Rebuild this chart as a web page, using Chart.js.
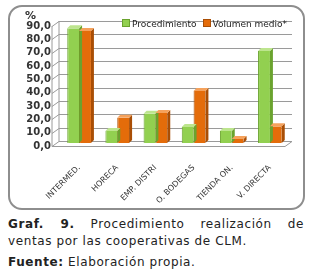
<!DOCTYPE html>
<html>
<head>
<meta charset="utf-8">
<script src="https://cdn.jsdelivr.net/npm/chart.js@4/dist/chart.umd.min.js"></script>
<style>
  body { margin: 0; background: #fff; width: 315px; height: 275px; position: relative; overflow: hidden; }
  #caja {
    position: absolute; left: 8px; top: 5px; width: 293px; height: 201px;
    border: 2px solid #8e8e8e; border-radius: 14px; background: #fff;
  }
  #grafico { position: absolute; left: 0; top: 0; }
  #leyenda {
    position: absolute; left: 112px; top: 12px; font-family: "DejaVu Sans", sans-serif;
    font-size: 9px; color: #222; white-space: nowrap;
  }
  #leyenda span.item { margin-right: 6px; }
  #leyenda span.cuadro { display: inline-block; width: 6px; height: 6px; margin-right: 2px; vertical-align: 0px; }
  .pie {
    position: absolute; left: 8px; width: 296px; font-family: "DejaVu Sans", sans-serif;
    font-size: 12px; letter-spacing: 0.6px; color: #222; line-height: 17px;
  }
  #titulo { top: 216px; }
  .just { text-align: justify; text-align-last: justify; }
  #fuente { top: 254px; }
</style>
</head>
<body>
<div id="caja">
  <canvas id="grafico" width="293" height="201"></canvas>
  <div id="leyenda"></div>
</div>
<div class="pie" id="titulo">
  <div class="just"><b>Graf. 9.</b> Procedimiento realización de</div>
  <div>ventas por las cooperativas de CLM.</div>
</div>
<div class="pie" id="fuente"><b>Fuente:</b> Elaboración propia.</div>

<script>
const categorias = ["INTERMED.", "HORECA", "EMP. DISTRI", "O. BODEGAS", "TIENDA ON.", "V. DIRECTA"];
const procedimiento = [86, 9, 22, 12, 9, 69];
const volumenMedio = [84, 19, 22.5, 39, 3, 12.5];
const nombresSeries = ["Procedimiento", "Volumen medio*"];

const colores = [
  { cara: "#92D050", lado: "#6AA32E", tapa: "#BDE58E" },
  { cara: "#E46C0A", lado: "#A94E05", tapa: "#F5A25C" },
];

// leyenda en HTML encima del canvas
const leyenda = document.getElementById("leyenda");
nombresSeries.forEach(function (nombre, i) {
  leyenda.innerHTML +=
    '<span class="item"><span class="cuadro" style="background:' + colores[i].cara +
    ';border:1px solid ' + colores[i].lado + '"></span>' + nombre + "</span>";
});

// pared del fondo, suelo y rejilla (efecto 3D)
const paredFondo = {
  id: "paredFondo",
  beforeDatasetsDraw(chart) {
    const ctx = chart.ctx;
    const y = chart.scales.y;
    const a = chart.chartArea;
    const fx = a.left - 8; // esquina delantera
    const bx = a.left - 1; // esquina trasera
    ctx.save();
    ctx.strokeStyle = "#9a9a9a";
    ctx.lineWidth = 1;
    y.ticks.forEach(function (t) {
      const py = Math.round(y.getPixelForValue(t.value)) + 0.5;
      ctx.beginPath();
      ctx.moveTo(fx, py + 3);
      ctx.lineTo(bx, py - 2);
      ctx.lineTo(a.right + 3, py - 2);
      ctx.stroke();
    });
    const y0 = Math.round(y.getPixelForValue(0)) + 0.5;
    ctx.beginPath();
    ctx.moveTo(fx, y0 + 3);
    ctx.lineTo(a.right - 4, y0 + 3);
    ctx.lineTo(a.right + 3, y0 - 2);
    ctx.stroke();
    ctx.beginPath();
    ctx.moveTo(bx, y0 - 2);
    ctx.lineTo(bx, Math.round(y.getPixelForValue(90)) - 2);
    ctx.moveTo(fx, y0 + 3);
    ctx.lineTo(fx, Math.round(y.getPixelForValue(90)) + 3);
    ctx.stroke();
    // simbolo %
    ctx.fillStyle = "#333";
    ctx.font = "bold 11px 'DejaVu Sans'";
    ctx.textAlign = "left";
    ctx.fillText("%", 15, 12);
    ctx.restore();
  },
  afterDatasetsDraw(chart) {
    const ctx = chart.ctx;
    ctx.save();
    chart.data.datasets.forEach(function (ds, i) {
      chart.getDatasetMeta(i).data.forEach(function (bar) {
        const w = bar.width;
        const x1 = bar.x - w / 2;
        const x2 = bar.x + w / 2;
        const top = bar.y;
        const base = bar.base;
        const d = 3;
        ctx.fillStyle = colores[i].lado;
        ctx.beginPath();
        ctx.moveTo(x2, base);
        ctx.lineTo(x2 + d, base - d);
        ctx.lineTo(x2 + d, top - d);
        ctx.lineTo(x2, top);
        ctx.closePath();
        ctx.fill();
        ctx.fillStyle = colores[i].tapa;
        ctx.beginPath();
        ctx.moveTo(x1, top);
        ctx.lineTo(x1 + d, top - d);
        ctx.lineTo(x2 + d, top - d);
        ctx.lineTo(x2, top);
        ctx.closePath();
        ctx.fill();
      });
    });
    ctx.restore();
  },
};

new Chart(document.getElementById("grafico"), {
  type: "bar",
  data: {
    labels: categorias,
    datasets: [
      {
        label: nombresSeries[0],
        data: procedimiento,
        backgroundColor: colores[0].cara,
        borderColor: colores[0].lado,
        borderWidth: { left: 1, right: 0, top: 0, bottom: 0 },
      },
      {
        label: nombresSeries[1],
        data: volumenMedio,
        backgroundColor: colores[1].cara,
        borderColor: colores[1].lado,
        borderWidth: { left: 1, right: 0, top: 0, bottom: 0 },
      },
    ],
  },
  options: {
    responsive: false,
    animation: false,
    layout: { padding: { top: 16, right: 14, left: 10, bottom: 0 } },
    plugins: { legend: { display: false }, tooltip: { enabled: false } },
    datasets: { bar: { categoryPercentage: 0.62, barPercentage: 1 } },
    scales: {
      x: {
        grid: { display: false },
        border: { display: false },
        afterFit: function (scale) {
          scale.height = 65;
        },
        ticks: {
          minRotation: 45,
          maxRotation: 45,
          color: "#333",
          font: { family: "DejaVu Sans", size: 8 },
          padding: 12,
        },
      },
      y: {
        min: 0,
        max: 90,
        grid: { display: false, drawTicks: false },
        border: { display: false },
        afterFit: function (scale) {
          scale.width = 40;
        },
        ticks: {
          stepSize: 10,
          autoSkip: false,
          labelOffset: 3,
          color: "#333",
          padding: 9,
          font: { family: "DejaVu Sans", size: 10, weight: "bold" },
          callback: function (v) {
            return v.toFixed(1).replace(".", ",");
          },
        },
      },
    },
  },
  plugins: [paredFondo],
});
</script>
</body>
</html>
